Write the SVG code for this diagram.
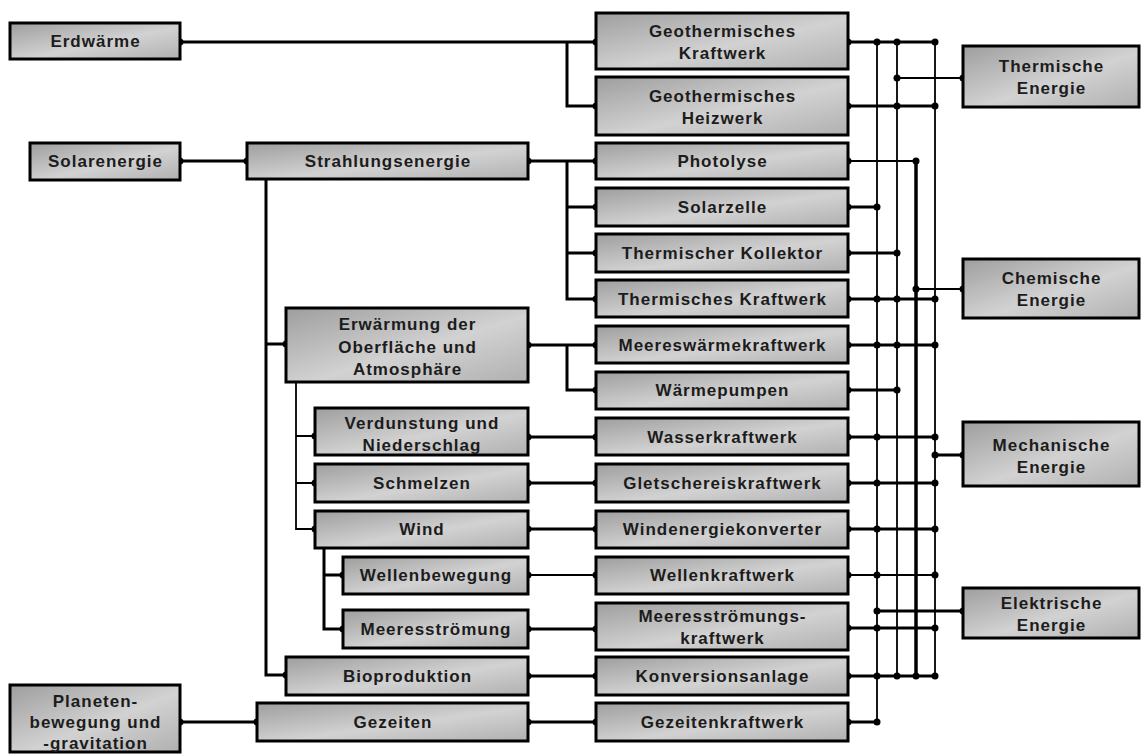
<svg xmlns="http://www.w3.org/2000/svg" width="1141" height="754" viewBox="0 0 1141 754">
<defs>
<linearGradient id="g" x1="0" y1="0" x2="1" y2="1">
<stop offset="0" stop-color="#9e9e9e"/>
<stop offset="0.55" stop-color="#d2d2d2"/>
<stop offset="1" stop-color="#b0b0b0"/>
</linearGradient>
<style>
.b{fill:url(#g);stroke:#000;stroke-width:3}
.t{font-family:"Liberation Sans",Arial,sans-serif;font-weight:bold;font-size:17px;fill:#1c1c1c;letter-spacing:1px;text-anchor:middle}
.c{fill:none;stroke:#000;stroke-width:3}
.n{fill:none;stroke:#000;stroke-width:1.8}
.d{fill:#000}
</style>
</defs>
<rect width="1141" height="754" fill="#fff"/>
<g id="connectors">
<path class="c" d="M180,42H596M567,42V106H596M180,161H247M528,161H596M567,161V299H596M567,207H596M567,253H596"/>
<path class="c" d="M266,179V675H286M266,344H286M528,345H596M567,345V390H596"/>
<path class="n" d="M296,382V529H315M296,436H315M296,483H315"/>
<path class="c" d="M324,548V629H343M324,575H343"/>
<path class="c" d="M528,437H596M528,483H596M528,529H596M528,629H596M528,676H596M528,722H596M180,722H257"/>
<path class="n" d="M528,575H596"/>
<path class="n" d="M877,42V722M897,42V675M935,42V675"/>
<path class="c" d="M916,161V675" style="stroke-width:3.5"/>
<path class="c" d="M848,42H935M848,106H935M848,207H877M848,253H897M848,299H935M848,345H935M848,390H897M848,437H935M848,483H935M848,529H935M848,628H935M848,676H935M848,722H877"/>
<path class="n" d="M848,161H916M848,575H935M897,78H963M916,289H963"/>
<path class="c" d="M935,455H963M877,611H963"/>
<g class="d">
<circle cx="180" cy="42" r="3.5"/><circle cx="596" cy="42" r="3.5"/><circle cx="596" cy="106" r="3.5"/>
<circle cx="180" cy="161" r="3.5"/><circle cx="247" cy="161" r="3.5"/><circle cx="528" cy="161" r="3.5"/>
<circle cx="596" cy="161" r="3.5"/><circle cx="596" cy="207" r="3.5"/><circle cx="596" cy="253" r="3.5"/><circle cx="596" cy="299" r="3.5"/>
<circle cx="286" cy="344" r="3.5"/><circle cx="286" cy="675" r="3.5"/><circle cx="528" cy="345" r="3.5"/><circle cx="596" cy="345" r="3.5"/><circle cx="596" cy="390" r="3.5"/>
<circle cx="315" cy="436" r="3.5"/><circle cx="315" cy="483" r="3.5"/><circle cx="315" cy="529" r="3.5"/>
<circle cx="343" cy="575" r="3.5"/><circle cx="343" cy="629" r="3.5"/>
<circle cx="528" cy="437" r="3.5"/><circle cx="596" cy="437" r="3.5"/>
<circle cx="528" cy="483" r="3.5"/><circle cx="596" cy="483" r="3.5"/>
<circle cx="528" cy="529" r="3.5"/><circle cx="596" cy="529" r="3.5"/>
<circle cx="528" cy="575" r="3.5"/><circle cx="596" cy="575" r="3.5"/>
<circle cx="528" cy="629" r="3.5"/><circle cx="596" cy="629" r="3.5"/>
<circle cx="528" cy="676" r="3.5"/><circle cx="596" cy="676" r="3.5"/>
<circle cx="528" cy="722" r="3.5"/><circle cx="596" cy="722" r="3.5"/>
<circle cx="180" cy="722" r="3.5"/><circle cx="257" cy="722" r="3.5"/>
<circle cx="848" cy="42" r="3.5"/><circle cx="848" cy="106" r="3.5"/><circle cx="848" cy="161" r="3.5"/><circle cx="848" cy="207" r="3.5"/>
<circle cx="848" cy="253" r="3.5"/><circle cx="848" cy="299" r="3.5"/><circle cx="848" cy="345" r="3.5"/><circle cx="848" cy="390" r="3.5"/>
<circle cx="848" cy="437" r="3.5"/><circle cx="848" cy="483" r="3.5"/><circle cx="848" cy="529" r="3.5"/><circle cx="848" cy="575" r="3.5"/>
<circle cx="848" cy="628" r="3.5"/><circle cx="848" cy="676" r="3.5"/><circle cx="848" cy="722" r="3.5"/>
<circle cx="877" cy="42" r="3.5"/><circle cx="897" cy="42" r="3.5"/><circle cx="935" cy="42" r="3.5"/>
<circle cx="897" cy="78" r="3.5"/><circle cx="963" cy="78" r="3.5"/>
<circle cx="897" cy="106" r="3.5"/><circle cx="935" cy="106" r="3.5"/>
<circle cx="916" cy="161" r="3.5"/><circle cx="877" cy="207" r="3.5"/><circle cx="897" cy="253" r="3.5"/>
<circle cx="916" cy="289" r="3.5"/><circle cx="963" cy="289" r="3.5"/>
<circle cx="877" cy="299" r="3.5"/><circle cx="897" cy="299" r="3.5"/><circle cx="935" cy="299" r="3.5"/>
<circle cx="877" cy="345" r="3.5"/><circle cx="897" cy="345" r="3.5"/><circle cx="935" cy="345" r="3.5"/>
<circle cx="897" cy="390" r="3.5"/>
<circle cx="877" cy="437" r="3.5"/><circle cx="935" cy="437" r="3.5"/>
<circle cx="935" cy="455" r="3.5"/><circle cx="963" cy="455" r="3.5"/>
<circle cx="877" cy="483" r="3.5"/><circle cx="935" cy="483" r="3.5"/>
<circle cx="877" cy="529" r="3.5"/><circle cx="935" cy="529" r="3.5"/>
<circle cx="877" cy="575" r="3.5"/><circle cx="935" cy="575" r="3.5"/>
<circle cx="877" cy="611" r="3.5"/><circle cx="963" cy="611" r="3.5"/>
<circle cx="877" cy="628" r="3.5"/><circle cx="935" cy="628" r="3.5"/>
<circle cx="877" cy="676" r="3.5"/><circle cx="897" cy="676" r="3.5"/><circle cx="916" cy="676" r="3.5"/><circle cx="935" cy="676" r="3.5"/>
<circle cx="877" cy="722" r="3.5"/>
</g>
</g>
<g id="erdwaerme"><rect class="b" x="10" y="23" width="170" height="36"/><text class="t" x="95.5" y="47">Erdwärme</text></g>
<g id="solarenergie"><rect class="b" x="30" y="143" width="150" height="37"/><text class="t" x="105.5" y="167">Solarenergie</text></g>
<g id="planeten"><rect class="b" x="10" y="685" width="170" height="67"/><text class="t" x="95.5" y="707">Planeten-</text><text class="t" x="95.5" y="728">bewegung und</text><text class="t" x="95.5" y="749">-gravitation</text></g>
<g id="strahlungsenergie"><rect class="b" x="247" y="143" width="281" height="36"/><text class="t" x="388" y="167">Strahlungsenergie</text></g>
<g id="erwaermung"><rect class="b" x="286" y="308" width="242" height="74"/><text class="t" x="407.5" y="330">Erwärmung der</text><text class="t" x="407.5" y="352.5">Oberfläche und</text><text class="t" x="407.5" y="375">Atmosphäre</text></g>
<g id="verdunstung"><rect class="b" x="315" y="408" width="213" height="47"/><text class="t" x="422" y="429">Verdunstung und</text><text class="t" x="422" y="451">Niederschlag</text></g>
<g id="schmelzen"><rect class="b" x="315" y="464" width="213" height="38"/><text class="t" x="422" y="489">Schmelzen</text></g>
<g id="wind"><rect class="b" x="315" y="511" width="213" height="37"/><text class="t" x="422" y="535">Wind</text></g>
<g id="wellenbewegung"><rect class="b" x="343" y="557" width="185" height="37"/><text class="t" x="436" y="581">Wellenbewegung</text></g>
<g id="meeresstroemung"><rect class="b" x="343" y="610" width="185" height="38"/><text class="t" x="436" y="635">Meeresströmung</text></g>
<g id="bioproduktion"><rect class="b" x="286" y="657" width="242" height="38"/><text class="t" x="407.5" y="682">Bioproduktion</text></g>
<g id="gezeiten"><rect class="b" x="257" y="703" width="271" height="38"/><text class="t" x="393" y="728">Gezeiten</text></g>
<g id="geo-kraftwerk"><rect class="b" x="596" y="13" width="252" height="56"/><text class="t" x="722.5" y="37">Geothermisches</text><text class="t" x="722.5" y="59">Kraftwerk</text></g>
<g id="geo-heizwerk"><rect class="b" x="596" y="77" width="252" height="58"/><text class="t" x="722.5" y="102">Geothermisches</text><text class="t" x="722.5" y="124">Heizwerk</text></g>
<g id="photolyse"><rect class="b" x="596" y="143" width="252" height="36"/><text class="t" x="722.5" y="167">Photolyse</text></g>
<g id="solarzelle"><rect class="b" x="596" y="188" width="252" height="38"/><text class="t" x="722.5" y="213">Solarzelle</text></g>
<g id="kollektor"><rect class="b" x="596" y="234" width="252" height="38"/><text class="t" x="722.5" y="259">Thermischer Kollektor</text></g>
<g id="thermisches-kraftwerk"><rect class="b" x="596" y="280" width="252" height="37"/><text class="t" x="722.5" y="305">Thermisches Kraftwerk</text></g>
<g id="meereswaermekraftwerk"><rect class="b" x="596" y="326" width="252" height="37"/><text class="t" x="722.5" y="351">Meereswärmekraftwerk</text></g>
<g id="waermepumpen"><rect class="b" x="596" y="372" width="252" height="37"/><text class="t" x="722.5" y="396">Wärmepumpen</text></g>
<g id="wasserkraftwerk"><rect class="b" x="596" y="418" width="252" height="37"/><text class="t" x="722.5" y="443">Wasserkraftwerk</text></g>
<g id="gletschereiskraftwerk"><rect class="b" x="596" y="464" width="252" height="38"/><text class="t" x="722.5" y="489">Gletschereiskraftwerk</text></g>
<g id="windenergiekonverter"><rect class="b" x="596" y="511" width="252" height="37"/><text class="t" x="722.5" y="535">Windenergiekonverter</text></g>
<g id="wellenkraftwerk"><rect class="b" x="596" y="557" width="252" height="37"/><text class="t" x="722.5" y="581">Wellenkraftwerk</text></g>
<g id="meeresstroemungskraftwerk"><rect class="b" x="596" y="603" width="252" height="47"/><text class="t" x="722.5" y="622">Meeresströmungs-</text><text class="t" x="722.5" y="644">kraftwerk</text></g>
<g id="konversionsanlage"><rect class="b" x="596" y="657" width="252" height="38"/><text class="t" x="722.5" y="682">Konversionsanlage</text></g>
<g id="gezeitenkraftwerk"><rect class="b" x="596" y="703" width="252" height="38"/><text class="t" x="722.5" y="728">Gezeitenkraftwerk</text></g>
<g id="thermische-energie"><rect class="b" x="963" y="46" width="176" height="61"/><text class="t" x="1051.5" y="72">Thermische</text><text class="t" x="1051.5" y="94">Energie</text></g>
<g id="chemische-energie"><rect class="b" x="963" y="259" width="176" height="59"/><text class="t" x="1051.5" y="284">Chemische</text><text class="t" x="1051.5" y="306">Energie</text></g>
<g id="mechanische-energie"><rect class="b" x="963" y="422" width="176" height="64"/><text class="t" x="1051.5" y="451">Mechanische</text><text class="t" x="1051.5" y="473">Energie</text></g>
<g id="elektrische-energie"><rect class="b" x="963" y="588" width="176" height="50"/><text class="t" x="1051.5" y="609">Elektrische</text><text class="t" x="1051.5" y="631">Energie</text></g>
</svg>
